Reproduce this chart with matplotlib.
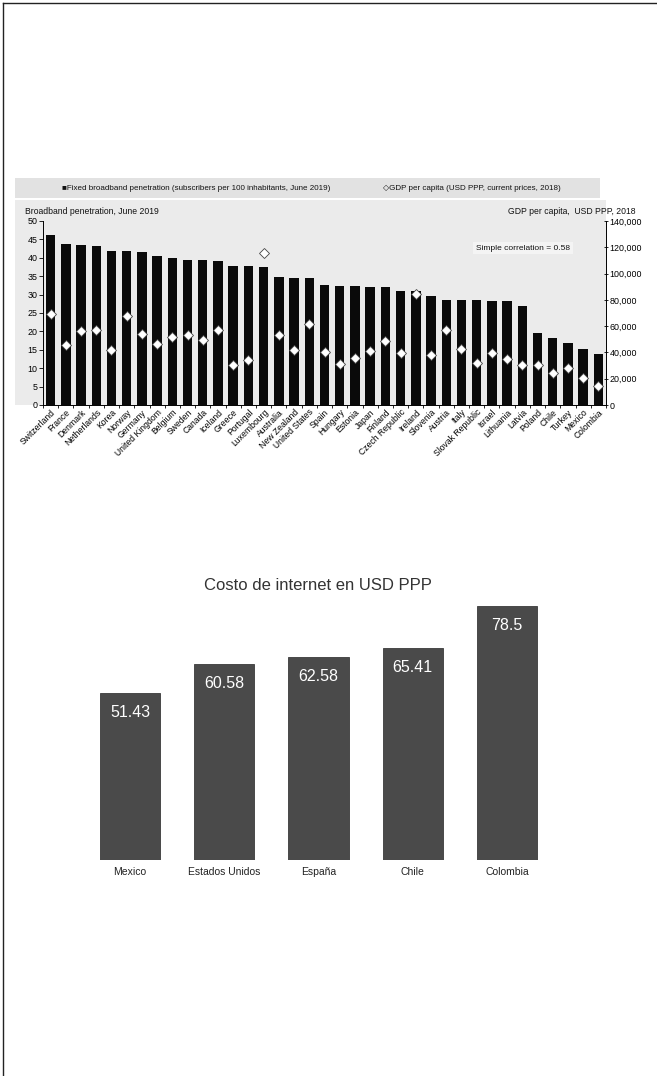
import matplotlib
matplotlib.use("Agg")
import matplotlib.pyplot as plt
from matplotlib.lines import Line2D
from matplotlib.patches import Rectangle
from matplotlib.ticker import FuncFormatter, FixedLocator
import numpy as np

plt.rcParams['font.family'] = ['Liberation Sans', 'DejaVu Sans']

# ---- data: top chart (OECD broadband vs GDP) ----
countries = ["Switzerland", "France", "Denmark", "Netherlands", "Korea", "Norway",
             "Germany", "United Kingdom", "Belgium", "Sweden", "Canada", "Iceland",
             "Greece", "Portugal", "Luxembourg", "Australia", "New Zealand",
             "United States", "Spain", "Hungary", "Estonia", "Japan", "Finland",
             "Czech Republic", "Ireland", "Slovenia", "Austria", "Italy",
             "Slovak Republic", "Israel", "Lithuania", "Latvia", "Poland", "Chile",
             "Turkey", "Mexico", "Colombia"]
broadband = [46.2, 43.8, 43.5, 43.2, 41.9, 41.9, 41.7, 40.5, 39.9, 39.3, 39.3, 39.1,
             37.7, 37.7, 37.5, 34.8, 34.5, 34.5, 32.5, 32.3, 32.3, 32.1, 32.1, 31.1,
             30.9, 29.5, 28.6, 28.4, 28.4, 28.2, 28.2, 26.8, 19.7, 18.2, 16.8, 15.2,
             13.9]
gdp = [68900, 45900, 56500, 57000, 42100, 67400, 53700, 46400, 51700, 53000, 49700,
       57000, 30300, 34600, 116000, 53000, 41600, 61800, 40400, 31300, 35800, 41100,
       48700, 39900, 84500, 38300, 56800, 42400, 32300, 39900, 35300, 30300, 30800,
       24500, 28300, 20200, 14600]

# ---- data: bottom chart (internet cost) ----
cost_labels = ["Mexico", "Estados Unidos", "España", "Chile", "Colombia"]
cost_values = [51.43, 60.58, 62.58, 65.41, 78.5]

W, H = 657, 1076
fig = plt.figure(figsize=(W / 100, H / 100), dpi=100)
fig.patch.set_facecolor("white")


def fx(px):
    return px / W


def fy(py):
    return 1 - py / H


# page frame (top and left)
fig.add_artist(Line2D([fx(3), fx(657)], [fy(3), fy(3)], color="#222222", lw=1.0))
fig.add_artist(Line2D([fx(3), fx(3)], [fy(3), fy(1076)], color="#222222", lw=1.0))

# grey panel behind the OECD chart
fig.add_artist(Rectangle((fx(15), fy(405)), fx(606) - fx(15), fy(200) - fy(405),
                         transform=fig.transFigure, facecolor="#ebebeb",
                         edgecolor="none", zorder=0))
fig.add_artist(Rectangle((fx(15), fy(198)), fx(600) - fx(15), fy(178) - fy(198),
                         transform=fig.transFigure, facecolor="#e2e2e2",
                         edgecolor="none", zorder=0))

# ---------------- top chart ----------------
ax = fig.add_axes([fx(43), fy(405), fx(606) - fx(43), fy(221) - fy(405)])
ax.set_facecolor("none")
x = np.arange(len(countries))
ax.bar(x, broadband, width=0.62, color="#0a0a0a", zorder=2)
ax.set_xlim(-0.5, len(countries) - 0.5)
ax.set_ylim(0, 50)
ax.set_yticks(np.arange(0, 51, 5))
ax.tick_params(axis="y", labelsize=6.4, length=3, width=0.6, pad=1)
ax.set_xticks(x)
ax.set_xticklabels(countries, rotation=45, ha="right", rotation_mode="anchor",
                   fontsize=6.2)
ax.tick_params(axis="x", length=0, pad=2)
ax.xaxis.set_minor_locator(FixedLocator(np.arange(-0.5, len(countries), 1)))
ax.tick_params(axis="x", which="minor", length=2.5, width=0.6)
for s in ["top", "right"]:
    ax.spines[s].set_visible(False)
ax.spines["left"].set_linewidth(0.7)
ax.spines["bottom"].set_linewidth(0.7)

ax2 = ax.twinx()
ax2.set_ylim(0, 140000)
ax2.set_yticks(np.arange(0, 140001, 20000))
ax2.yaxis.set_major_formatter(FuncFormatter(lambda v, p: f"{int(v):,}"))
ax2.tick_params(axis="y", labelsize=6.4, length=3, width=0.6, pad=1, direction="inout")
for s in ["top", "left", "bottom"]:
    ax2.spines[s].set_visible(False)
ax2.spines["right"].set_linewidth(0.7)
ax2.plot(x, gdp, linestyle="none", marker="D", markersize=5.2,
         markerfacecolor="white", markeredgecolor="#444444", markeredgewidth=0.6,
         zorder=3)

fig.text(fx(62), fy(188), "■Fixed broadband penetration (subscribers per 100 inhabitants, June 2019)",
         fontsize=5.8, va="center", ha="left", color="#111111")
fig.text(fx(383), fy(188), "◇GDP per capita (USD PPP, current prices, 2018)",
         fontsize=5.8, va="center", ha="left", color="#111111")
fig.text(fx(25), fy(211), "Broadband penetration, June 2019", fontsize=6.2,
         va="center", ha="left", color="#111111")
fig.text(fx(635), fy(211), "GDP per capita,  USD PPP, 2018", fontsize=6.2,
         va="center", ha="right", color="#111111")
fig.text(fx(476), fy(248), "Simple correlation = 0.58", fontsize=6,
         va="center", ha="left", color="#111111",
         bbox=dict(facecolor="#f4f4f4", edgecolor="none", pad=2))

# ---------------- bottom chart ----------------
bx = fig.add_axes([fx(83), fy(860), fx(554) - fx(83), fy(601) - fy(860)])
bx.set_facecolor("none")
bpos = np.arange(len(cost_labels))
bars = bx.bar(bpos, cost_values, width=0.64, color="#4a4a4a", edgecolor="#3a3a3a",
              linewidth=0.6)
bx.set_xlim(-0.5, len(cost_labels) - 0.5)
bx.set_ylim(0, 80)
bx.set_yticks([])
bx.set_xticks(bpos)
bx.set_xticklabels(cost_labels, fontsize=7.5, color="#222222")
bx.tick_params(axis="x", length=0, pad=5)
for s in bx.spines.values():
    s.set_visible(False)
for b, v in zip(bars, cost_values):
    bx.annotate(f"{v:g}", (b.get_x() + b.get_width() / 2, v),
                xytext=(0, -14), textcoords="offset points", ha="center",
                va="center", fontsize=11.5, color="white")

fig.text(fx(318), fy(585), "Costo de internet en USD PPP", fontsize=12,
         ha="center", va="center", color="#333333")

fig.savefig("out.png", dpi=100)
